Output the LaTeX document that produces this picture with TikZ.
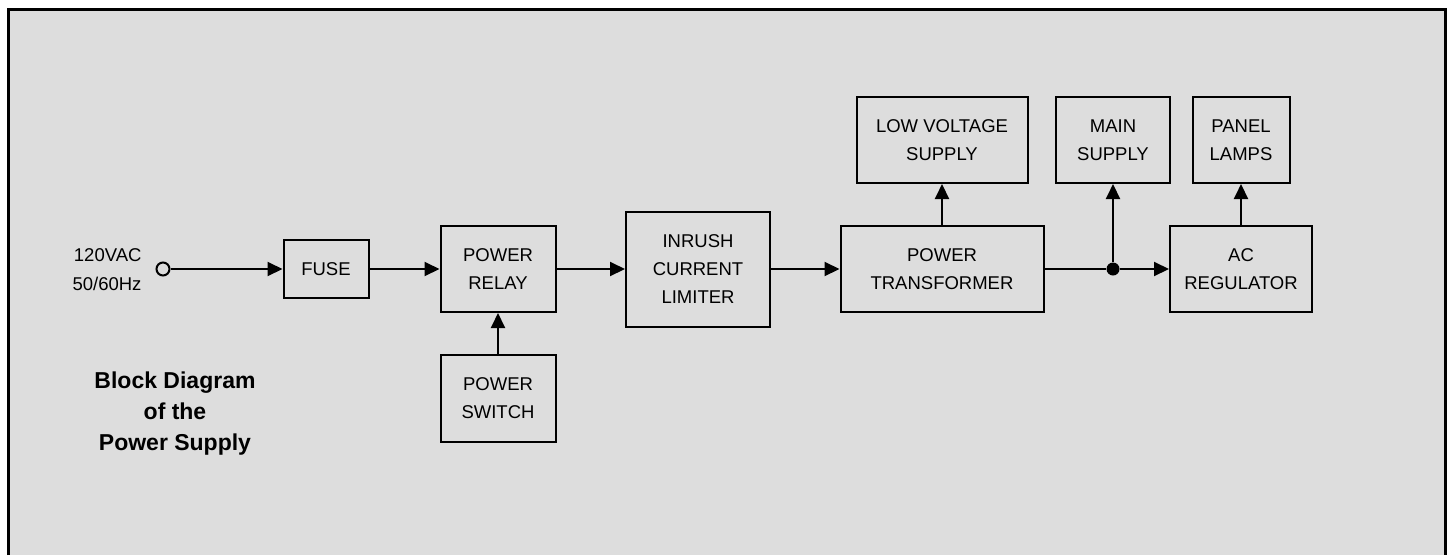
\documentclass[tikz,border=0pt]{standalone}
\usepackage{fontspec}
\setmainfont{Liberation Sans}
\usetikzlibrary{arrows.meta}
\definecolor{panelgray}{RGB}{221,221,221}
\tikzset{
  blk/.style={draw,line width=2pt,inner sep=0pt,align=center,font=\fontsize{18.5}{28}\selectfont},
  sig/.style={line width=2pt,-{Triangle[length=15pt,width=14pt]}},
  wire/.style={line width=2pt}
}
\begin{document}
\begin{tikzpicture}[x=1pt,y=-1pt]
\useasboundingbox (0,0) rectangle (1450,555);
\fill[white] (0,0) rectangle (1450,555);
\fill[panelgray] (8,9) rectangle (1445,555);
\draw[line width=3pt] (8,555) -- (8,9) -- (1445,9) -- (1445,555);

\node[anchor=east,align=right,font=\fontsize{18.5}{29}\selectfont] (src) at (145,270) {120VAC\\50/60Hz};
\node[draw,circle,line width=2pt,minimum size=13pt,inner sep=0pt] (term) at (163,269) {};

\node[blk,minimum width=85pt,minimum height=58pt] (fuse) at (326,269) {FUSE};
\node[blk,minimum width=115pt,minimum height=86pt] (relay) at (498,269) {POWER\\RELAY};
\node[blk,minimum width=115pt,minimum height=87pt] (switch) at (498,398) {POWER\\SWITCH};
\node[blk,minimum width=144pt,minimum height=115pt] (inrush) at (698,269) {INRUSH\\CURRENT\\LIMITER};
\node[blk,minimum width=203pt,minimum height=86pt] (xfmr) at (942,269) {POWER\\TRANSFORMER};
\node[blk,minimum width=171pt,minimum height=86pt] (lowv) at (942,140) {LOW VOLTAGE\\SUPPLY};
\node[blk,minimum width=114pt,minimum height=86pt] (mains) at (1113,140) {MAIN\\SUPPLY};
\node[blk,minimum width=142pt,minimum height=86pt] (acreg) at (1241,269) {AC\\REGULATOR};
\node[blk,minimum width=97pt,minimum height=86pt] (lamps) at (1241,140) {PANEL\\LAMPS};
\node[circle,fill,minimum size=13pt,inner sep=0pt] (dot) at (1113,269) {};

\node[align=center,font=\bfseries\fontsize{23}{31}\selectfont] (title) at (175,414) {Block Diagram\\of the\\Power Supply};

\draw[sig] (term) -- (fuse);
\draw[sig] (fuse) -- (relay);
\draw[sig] (relay) -- (inrush);
\draw[sig] (inrush.east) -- (xfmr.west);
\draw[sig] (switch) -- (relay);
\draw[sig] (xfmr) -- (lowv);
\draw[wire] (xfmr.east) -- (dot);
\draw[sig] (dot) -- (acreg);
\draw[sig] (dot) -- (mains);
\draw[sig] (acreg) -- (lamps);
\end{tikzpicture}
\end{document}
